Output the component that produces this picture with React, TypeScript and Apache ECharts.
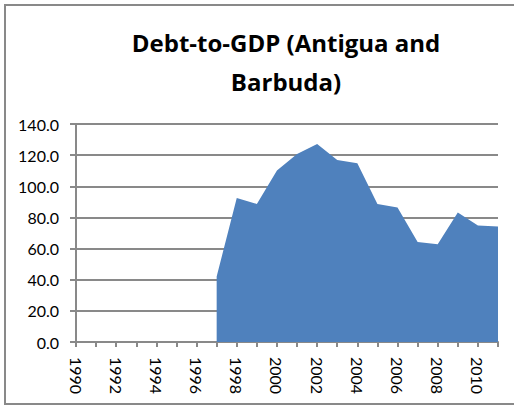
import React, { useEffect, useRef } from "react";
import * as echarts from "echarts";

const years = [
  "1990", "1991", "1992", "1993", "1994", "1995", "1996", "1997", "1998", "1999", "2000",
  "2001", "2002", "2003", "2004", "2005", "2006", "2007", "2008", "2009", "2010", "2011",
];
const debtToGdp: (number | null)[] = [
  null, null, null, null, null, null, null,
  42.1, 92.4, 88.7, 110.1, 120.8, 127.2, 116.9, 114.8, 88.7, 86.3, 64.3, 62.8, 83.1, 74.8, 74.2,
];
const titleText = "Debt-to-GDP (Antigua and\nBarbuda)";

const FONT = "Lato, 'Noto Sans', sans-serif";
const TITLE_FONT = "'Open Sans', 'Noto Sans', sans-serif";
const GRAY = "#898989";

export default function App() {
  const ref = useRef<HTMLDivElement>(null);
  useEffect(() => {
    if (!ref.current) return;
    const chart = echarts.init(ref.current, undefined, { renderer: "svg" });
    chart.setOption({
      animation: false,
      backgroundColor: "#ffffff",
      title: {
        text: titleText,
        left: 286,
        top: 23,
        padding: 0,
        textAlign: "center",
        textStyle: {
          fontFamily: TITLE_FONT,
          fontSize: 24,
          fontWeight: "bold",
          color: "#000",
          lineHeight: 39,
        },
      },
      graphic: [
        {
          type: "rect",
          silent: true,
          z: -10,
          shape: { x: 5, y: 5, width: 530, height: 399 },
          style: { fill: "none", stroke: GRAY, lineWidth: 2 },
        },
      ],
      grid: { left: 76, top: 124, width: 422, height: 218, containLabel: false },
      xAxis: {
        type: "category",
        data: years,
        boundaryGap: false,
        axisLine: { show: true, lineStyle: { color: GRAY, width: 2 } },
        axisTick: { show: true, interval: 0, length: 5, lineStyle: { color: GRAY, width: 2 } },
        axisLabel: {
          interval: 1,
          rotate: -90,
          margin: 15,
          fontFamily: FONT,
          fontSize: 16,
          color: "#000",
        },
        splitLine: { show: false },
      },
      yAxis: {
        type: "value",
        min: 0,
        max: 140,
        interval: 20,
        axisLine: { show: true, lineStyle: { color: GRAY, width: 2 } },
        axisTick: { show: true, length: 6, lineStyle: { color: GRAY, width: 2 } },
        axisLabel: {
          margin: 17,
          fontFamily: FONT,
          fontSize: 16,
          color: "#000",
          formatter: (v: number) => v.toFixed(1),
        },
        splitLine: { show: true, lineStyle: { color: GRAY, width: 2 } },
      },
      series: [
        {
          type: "line",
          data: debtToGdp,
          showSymbol: false,
          symbol: "none",
          connectNulls: false,
          lineStyle: { width: 0, color: "#4F81BD" },
          itemStyle: { color: "#4F81BD" },
          areaStyle: { color: "#4F81BD", opacity: 1 },
          z: 3,
        },
      ],
    });
    return () => chart.dispose();
  }, []);
  return (
    <div
      ref={ref}
      style={{ position: "absolute", left: 0, top: 0, width: 514, height: 406 }}
    />
  );
}
